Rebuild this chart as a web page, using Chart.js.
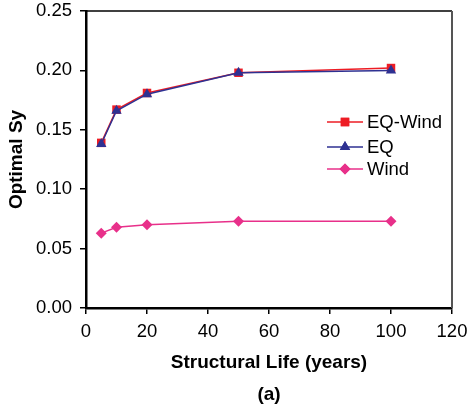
<!DOCTYPE html>
<html>
<head>
<meta charset="utf-8">
<script src="https://cdn.jsdelivr.net/npm/chart.js@4.4.1/dist/chart.umd.min.js"></script>
<style>
  html, body { margin: 0; padding: 0; background: #fff; }
  #wrap { width: 469px; height: 414px; }
</style>
</head>
<body>
<div id="wrap"><canvas id="sy"></canvas></div>
<script>
const years = [5, 10, 20, 50, 100];
const eqWind = [0.139, 0.167, 0.181, 0.198, 0.202];
const eq = [0.138, 0.166, 0.180, 0.198, 0.200];
const wind = [0.063, 0.068, 0.070, 0.073, 0.073];
const seriesNames = ['EQ-Wind', 'EQ', 'Wind'];
const xTicks = [0, 20, 40, 60, 80, 100, 120];
const yTicks = [0, 0.05, 0.10, 0.15, 0.20, 0.25];

const red = '#ed1c24', navy = '#2e3192', pink = '#e8308a';
const fam = '"Liberation Sans", Arial, Helvetica, sans-serif';

function pts(vals) {
  return years.map((x, i) => ({x: x, y: vals[i]}));
}

// top/right frame and legend inside the plot
const framePlugin = {
  id: 'frame',
  afterDraw(chart) {
    const ctx = chart.ctx, a = chart.chartArea;
    ctx.save();
    ctx.lineWidth = 1.5;
    ctx.strokeStyle = '#000';
    ctx.beginPath();
    ctx.moveTo(a.left, a.top);
    ctx.lineTo(a.right, a.top);
    ctx.stroke();
    ctx.strokeStyle = '#555';
    ctx.lineWidth = 2;
    ctx.beginPath();
    ctx.moveTo(a.right, a.top);
    ctx.lineTo(a.right, a.bottom);
    ctx.stroke();

    // legend
    const rows = [122, 147, 169];
    ctx.font = '18.5px ' + fam;
    ctx.textBaseline = 'middle';
    chart.data.datasets.forEach((ds, i) => {
      const y = rows[i];
      ctx.strokeStyle = ds.borderColor;
      ctx.lineWidth = 1.5;
      ctx.beginPath();
      ctx.moveTo(327, y);
      ctx.lineTo(363, y);
      ctx.stroke();
      ctx.fillStyle = ds.backgroundColor;
      Chart.helpers.drawPoint(ctx, {pointStyle: ds.pointStyle, radius: ds.pointRadius, borderWidth: 0}, 345, y);
      ctx.fill();
      ctx.fillStyle = '#000';
      ctx.fillText(ds.label, 367, y + 1);
    });
    ctx.restore();
  }
};

new Chart(document.getElementById('sy'), {
  type: 'line',
  data: {
    datasets: [
      {label: seriesNames[0], data: pts(eqWind), borderColor: red, backgroundColor: red,
       pointStyle: 'rect', pointRadius: 6, pointBorderWidth: 0, borderWidth: 1.5, order: 2},
      {label: seriesNames[1], data: pts(eq), borderColor: navy, backgroundColor: navy,
       pointStyle: 'triangle', pointRadius: 6, pointBorderWidth: 0, borderWidth: 1.5, order: 1},
      {label: seriesNames[2], data: pts(wind), borderColor: pink, backgroundColor: pink,
       pointStyle: 'rectRot', pointRadius: 5.5, pointBorderWidth: 0, borderWidth: 1.5, order: 0}
    ]
  },
  options: {
    responsive: true,
    maintainAspectRatio: false,
    animation: false,
    layout: {padding: {top: 11, right: 17, left: 0, bottom: 0}},
    plugins: {legend: {display: false}, tooltip: {enabled: false}},
    scales: {
      x: {
        type: 'linear', min: 0, max: 120,
        afterBuildTicks(s) { s.ticks = xTicks.map(v => ({value: v})); },
        afterFit(s) { s.height = 106; s.paddingLeft = 0; s.paddingRight = 0; },
        grid: {drawOnChartArea: false, tickLength: 6, color: '#000', lineWidth: 1.5},
        border: {color: '#000', width: 2.5},
        ticks: {color: '#000', padding: 7, font: {family: fam, size: 18.5}},
        title: {display: true, text: ['Structural Life (years)', '(a)'], color: '#000',
                font: {family: fam, size: 19, weight: 'bold', lineHeight: 32 / 19},
                padding: {top: 0, bottom: 3}}
      },
      y: {
        min: 0, max: 0.25,
        afterBuildTicks(s) { s.ticks = yTicks.map(v => ({value: v})); },
        afterFit(s) { s.width = 86; s.paddingTop = 0; s.paddingBottom = 0; },
        grid: {drawOnChartArea: false, tickLength: 6, color: '#000', lineWidth: 1.5},
        border: {color: '#000', width: 2.5},
        ticks: {color: '#000', padding: 8, font: {family: fam, size: 18.5},
                callback: v => v.toFixed(2)},
        title: {display: true, text: 'Optimal Sy', color: '#000',
                font: {family: fam, size: 19, weight: 'bold'},
                padding: {top: 5, bottom: 0}}
      }
    }
  },
  plugins: [framePlugin]
});
</script>
</body>
</html>
